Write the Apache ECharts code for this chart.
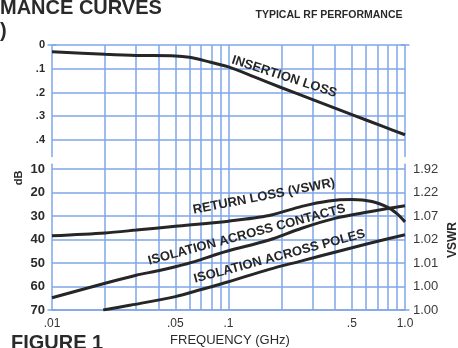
<!DOCTYPE html>
<html>
<head>
<meta charset="utf-8">
<script src="https://cdn.jsdelivr.net/npm/echarts@6/dist/echarts.min.js"></script>
<style>html,body{margin:0;padding:0;background:#fff}#c{width:458px;height:348px}</style>
</head>
<body>
<div id="c"></div>
<script>
// ---- data (frequency in GHz, values in dB) ----
const insertionFreq = [0.01, 0.02, 0.03, 0.05, 0.06, 0.075, 0.1, 0.14, 0.2, 0.3, 0.5, 0.75, 1.0];
const insertionLoss = [0.028, 0.039, 0.044, 0.046, 0.052, 0.068, 0.092, 0.134, 0.18, 0.23, 0.293, 0.343, 0.378];

const returnFreq = [0.01, 0.02, 0.03, 0.05, 0.1, 0.17, 0.26, 0.37, 0.5, 0.65, 0.8, 0.9, 1.0];
const returnLoss = [38.4, 37.2, 36.0, 34.4, 32.2, 29.8, 25.9, 23.6, 23.0, 23.8, 26.3, 29.0, 32.5];

const contactsFreq = [0.01, 0.02, 0.03, 0.04, 0.05, 0.065, 0.085, 0.1, 0.17, 0.26, 0.4, 0.63, 1.0];
const contactsIso = [64.8, 58.6, 55.2, 53.3, 51.6, 49.3, 46.4, 44.8, 40.2, 35.2, 31.0, 28.2, 25.6];

const polesFreq = [0.0195, 0.028, 0.05, 0.07, 0.1, 0.17, 0.26, 0.41, 0.63, 1.0];
const polesIso = [70, 67.9, 64.3, 61.3, 58.0, 52.7, 49.1, 45.2, 41.6, 38.0];

// ---- ticks / labels ----
const upperTicks = [0, 0.1, 0.2, 0.3, 0.4];
const upperTickLabels = ['0', '.1', '.2', '.3', '.4'];
const lowerTicks = [10, 20, 30, 40, 50, 60, 70];
const lowerTickLabels = ['10', '20', '30', '40', '50', '60', '70'];
const vswrTickLabels = ['1.92', '1.22', '1.07', '1.02', '1.01', '1.00', '1.00'];
const freqGridLines = [0.02, 0.03, 0.04, 0.05, 0.06, 0.07, 0.08, 0.09, 0.1, 0.2, 0.3, 0.4, 0.5, 0.6, 0.7, 0.8, 0.9];
const decadeTicks = [0.01, 0.1, 1.0];
const decadeTickLabels = ['.01', '.1', '1.0'];
const midTicks = [0.05, 0.5];
const midTickLabels = ['.05', '.5'];
const curveNames = ['INSERTION LOSS', 'RETURN LOSS (VSWR)', 'ISOLATION ACROSS CONTACTS', 'ISOLATION ACROSS POLES'];

// ---- helpers ----
function lookup(ticks, labels, v) {
  for (let i = 0; i < ticks.length; i++) {
    if (Math.abs(ticks[i] - v) < 1e-6 * Math.max(1, Math.abs(ticks[i]))) return labels[i];
  }
  return '';
}
function zip(a, b) { return a.map((x, i) => [x, b[i]]); }

const BLUE = '#7fa6ea';
const INK = '#262626';
const FONT = '"Liberation Sans", Arial, sans-serif';
const gridLineStyle = { color: BLUE, width: 1.5, type: 'solid' };

const chart = echarts.init(document.getElementById('c'), null, { renderer: 'canvas' });

const xLabelStyle = { fontSize: 12, color: '#333', fontFamily: FONT };

function curveLabel(name, coord, rot) {
  return {
    silent: true, symbol: 'circle', symbolSize: 0,
    label: { show: true, position: 'inside', color: INK, fontSize: 13, fontWeight: 'bold' },
    data: [{ coord: coord, label: { formatter: name, rotate: rot } }]
  };
}

const option = {
  animation: false,
  backgroundColor: '#fff',
  textStyle: { fontFamily: FONT },
  grid: [
    { left: 52, right: 53, top: 45, bottom: 38 },
    { left: 52, right: 53, top: 45, height: 111.6 },
    { left: 52, right: 53, top: 164.3, bottom: 38 }
  ],
  xAxis: [
    { gridIndex: 0, type: 'log', logBase: 10, min: 0.01, max: 1, show: false },
    { gridIndex: 1, type: 'log', logBase: 10, min: 0.01, max: 1, show: false },
    {
      gridIndex: 2, type: 'log', logBase: 10, min: 0.01, max: 1,
      axisLine: { show: true, onZero: false, lineStyle: gridLineStyle },
      axisTick: { show: false }, splitLine: { show: false }, minorSplitLine: { show: false },
      axisLabel: Object.assign({ margin: 8, formatter: v => lookup(decadeTicks, decadeTickLabels, v) }, xLabelStyle)
    }
  ],
  yAxis: [
    {
      gridIndex: 1, type: 'value', inverse: true, min: 0, max: 0.47, interval: 0.1,
      axisLine: { show: true, onZero: false, lineStyle: gridLineStyle, symbol: ['none', 'rect'], symbolSize: [9, 1.5] },
      axisTick: { show: false }, splitLine: { show: false },
      axisLabel: { margin: 7, fontSize: 11, fontWeight: 'bold', color: '#2a2a2a', formatter: v => lookup(upperTicks, upperTickLabels, v) }
    },
    {
      gridIndex: 1, type: 'value', position: 'right', inverse: true, min: 0, max: 0.47, interval: 0.1,
      axisLine: { show: true, onZero: false, lineStyle: gridLineStyle, symbol: ['none', 'rect'], symbolSize: [9, 1.5] },
      axisTick: { show: false }, splitLine: { show: false }, axisLabel: { show: false }
    },
    {
      gridIndex: 2, type: 'value', inverse: true, min: 8, max: 70, interval: 2,
      axisLine: { show: true, onZero: false, lineStyle: gridLineStyle, symbol: ['rect', 'none'], symbolSize: [9, 1.5] },
      axisTick: { show: false }, splitLine: { show: false },
      axisLabel: { margin: 7, fontSize: 13, fontWeight: 'bold', color: '#2a2a2a', formatter: v => lookup(lowerTicks, lowerTickLabels, v) }
    },
    {
      gridIndex: 2, type: 'value', position: 'right', inverse: true, min: 8, max: 70, interval: 2,
      axisLine: { show: true, onZero: false, lineStyle: gridLineStyle, symbol: ['rect', 'none'], symbolSize: [9, 1.5] },
      axisTick: { show: false }, splitLine: { show: false },
      axisLabel: { margin: 8, fontSize: 13, color: '#3a3a3a', formatter: v => lookup(lowerTicks, vswrTickLabels, v) }
    },
    { gridIndex: 0, type: 'value', min: 0, max: 1, show: false }
  ],
  series: [
    {
      type: 'line', xAxisIndex: 0, yAxisIndex: 4, data: [], silent: true, z: 1,
      markLine: {
        silent: true, symbol: ['none', 'none'], lineStyle: gridLineStyle,
        label: { show: false },
        data: freqGridLines.map(f => {
          const lab = lookup(midTicks, midTickLabels, f);
          return lab
            ? { xAxis: f, label: Object.assign({ show: true, position: 'start', distance: 8, formatter: lab }, xLabelStyle) }
            : { xAxis: f };
        })
      }
    },
    {
      type: 'line', xAxisIndex: 1, yAxisIndex: 0, data: [], silent: true, z: 1,
      markLine: { silent: true, symbol: ['none', 'none'], lineStyle: gridLineStyle, label: { show: false },
        data: upperTicks.map(v => ({ yAxis: v })) }
    },
    {
      type: 'line', xAxisIndex: 2, yAxisIndex: 2, data: [], silent: true, z: 1,
      markLine: { silent: true, symbol: ['none', 'none'], lineStyle: gridLineStyle, label: { show: false },
        data: lowerTicks.map(v => ({ yAxis: v })) }
    },
    {
      name: curveNames[0], type: 'line', xAxisIndex: 1, yAxisIndex: 0, z: 5,
      data: zip(insertionFreq, insertionLoss), smooth: 0.3, showSymbol: false, silent: true,
      lineStyle: { color: INK, width: 3 },
      markPoint: curveLabel(curveNames[0], [0.207, 0.1335], -18)
    },
    {
      name: curveNames[1], type: 'line', xAxisIndex: 2, yAxisIndex: 2, z: 5,
      data: zip(returnFreq, returnLoss), smooth: 0.3, showSymbol: false, silent: true,
      lineStyle: { color: INK, width: 3 },
      markPoint: curveLabel(curveNames[1], [0.159, 21.7], 11)
    },
    {
      name: curveNames[2], type: 'line', xAxisIndex: 2, yAxisIndex: 2, z: 5,
      data: zip(contactsFreq, contactsIso), smooth: 0.3, showSymbol: false, silent: true,
      lineStyle: { color: INK, width: 3 },
      markPoint: curveLabel(curveNames[2], [0.127, 38.0], 15)
    },
    {
      name: curveNames[3], type: 'line', xAxisIndex: 2, yAxisIndex: 2, z: 5,
      data: zip(polesFreq, polesIso), smooth: 0.3, showSymbol: false, silent: true,
      lineStyle: { color: INK, width: 3 },
      markPoint: curveLabel(curveNames[3], [0.1945, 47.2], 15)
    }
  ],
  graphic: [
    { type: 'text', x: 0, y: -2, style: { text: 'MANCE CURVES', fontSize: 20, fontWeight: 'bold', fontFamily: FONT, fill: '#2a2a2a', verticalAlign: 'top' } },
    { type: 'text', x: 0, y: 21, style: { text: ')', fontSize: 20, fontWeight: 'bold', fontFamily: FONT, fill: '#2a2a2a', verticalAlign: 'top' } },
    { type: 'text', x: 329, y: 15, style: { text: 'TYPICAL RF PERFORMANCE', fontSize: 10.5, fontWeight: 'bold', fontFamily: FONT, fill: '#2a2a2a', align: 'center', verticalAlign: 'middle' } },
    { type: 'text', x: 11, y: 333, style: { text: 'FIGURE 1', fontSize: 20, fontWeight: 'bold', fontFamily: FONT, fill: '#2a2a2a', verticalAlign: 'top' } },
    { type: 'text', x: 230, y: 340, style: { text: 'FREQUENCY (GHz)', fontSize: 13, fontFamily: FONT, fill: '#2a2a2a', align: 'center', verticalAlign: 'middle' } },
    { type: 'text', x: 18.5, y: 178, rotation: Math.PI / 2, style: { text: 'dB', fontSize: 11, fontWeight: 'bold', fontFamily: FONT, fill: '#2a2a2a', align: 'center', verticalAlign: 'middle' } },
    { type: 'text', x: 453, y: 240, rotation: Math.PI / 2, style: { text: 'VSWR', fontSize: 12, fontWeight: 'bold', fontFamily: FONT, fill: '#2a2a2a', align: 'center', verticalAlign: 'middle' } }
  ]
};

chart.setOption(option);
</script>
</body>
</html>
